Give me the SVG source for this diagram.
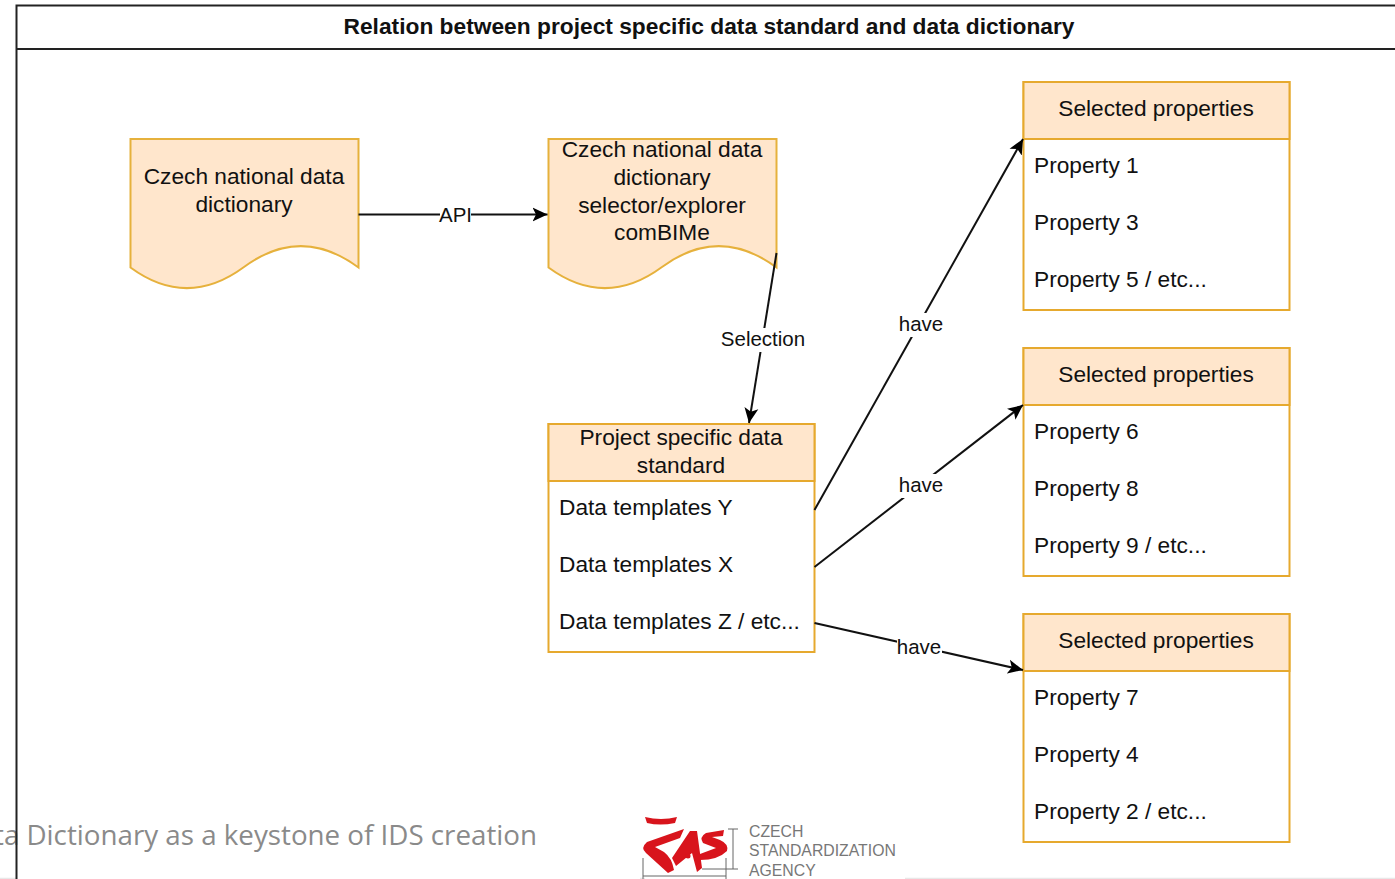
<svg xmlns="http://www.w3.org/2000/svg" width="1395" height="879" viewBox="0 0 1395 879">
<defs>
<marker id="arrow" markerUnits="userSpaceOnUse" markerWidth="16" markerHeight="16" refX="15" refY="8" orient="auto"><path d="M0,1 L15,8 L0,15 L3.500,8 Z" fill="#000"/></marker>
</defs>
<style>
text{font-family:"Liberation Sans",Arial,sans-serif;font-size:22.7px;fill:#111}
.c{text-anchor:middle}
.box{fill:#fff;stroke:#e6a92e;stroke-width:2}
.head{fill:#ffe6cc;stroke:#e6a92e;stroke-width:2}
.doc{fill:#ffe6cc;stroke:#e6b13c;stroke-width:2}
.edge{fill:none;stroke:#111;stroke-width:2;marker-end:url(#arrow)}
.lab{fill:#fff}
.small{font-size:20.5px}
.logo{font-size:15.8px;fill:#777}
.dim{fill:none;stroke:#666;stroke-width:1}
</style>
<rect width="1395" height="879" fill="#fff"/>
<g id="footer">
<text x="-6" y="845" style="font-family:'Open Sans',sans-serif;font-size:27px;fill:#8a8a8a" textLength="543" lengthAdjust="spacingAndGlyphs">ta Dictionary as a keystone of IDS creation</text>
<path d="M0,878.500 H16 M640,878.500 H645 M905,878.500 H1395" stroke="#e8e8e8" stroke-width="1.500" fill="none"/>
</g>
<g id="frame">
<path d="M1395,5.500 H16.500 V879" fill="none" stroke="#222" stroke-width="2"/>
<path d="M16.500,49 H1395" fill="none" stroke="#222" stroke-width="2"/>
<text x="709" y="34" class="c" style="font-weight:bold" textLength="731" lengthAdjust="spacingAndGlyphs">Relation between project specific data standard and data dictionary</text>
</g>
<g id="dict">
<path class="doc" d="M130.500,139 H358.500 V267.500 C320,239 282,239 244,267 C206,295 168,295 130.500,267.500 Z"/>
<text x="244" y="184" class="c">Czech national data</text>
<text x="244" y="212" class="c">dictionary</text>
</g>
<g id="selector">
<path class="doc" d="M548.500,139 H776.500 V267.500 C738,239 700,239 662,267 C624,295 586,295 548.500,267.500 Z"/>
<text x="662" y="157" class="c">Czech national data</text>
<text x="662" y="185" class="c">dictionary</text>
<text x="662" y="213" class="c">selector/explorer</text>
<text x="662" y="240" class="c">comBIMe</text>
</g>
<g id="standard">
<rect class="box" x="548.500" y="424" width="266" height="228"/>
<rect class="head" x="548.500" y="424" width="266" height="57"/>
<text x="681" y="445" class="c">Project specific data</text>
<text x="681" y="473" class="c">standard</text>
<text x="559" y="515">Data templates Y</text>
<text x="559" y="572">Data templates X</text>
<text x="559" y="629">Data templates Z / etc...</text>
</g>
<g id="props1">
<rect class="box" x="1023.500" y="82" width="266" height="228"/>
<rect class="head" x="1023.500" y="82" width="266" height="57"/>
<text x="1156" y="116" class="c">Selected properties</text>
<text x="1034" y="173">Property 1</text>
<text x="1034" y="230">Property 3</text>
<text x="1034" y="287">Property 5 / etc...</text>
</g>
<g id="props2">
<rect class="box" x="1023.500" y="348" width="266" height="228"/>
<rect class="head" x="1023.500" y="348" width="266" height="57"/>
<text x="1156" y="382" class="c">Selected properties</text>
<text x="1034" y="439">Property 6</text>
<text x="1034" y="496">Property 8</text>
<text x="1034" y="553">Property 9 / etc...</text>
</g>
<g id="props3">
<rect class="box" x="1023.500" y="614" width="266" height="228"/>
<rect class="head" x="1023.500" y="614" width="266" height="57"/>
<text x="1156" y="648" class="c">Selected properties</text>
<text x="1034" y="705">Property 7</text>
<text x="1034" y="762">Property 4</text>
<text x="1034" y="819">Property 2 / etc...</text>
</g>
<g id="connectors">
<path class="edge" d="M358.500,214.500 H547.500"/>
<path class="edge" d="M776.500,253 L749,423"/>
<path class="edge" d="M814.500,510 L1023,139"/>
<path class="edge" d="M814.500,567 L1023,405"/>
<path class="edge" d="M814.500,623 L1023,670"/>
<rect class="lab" x="440" y="206" width="31" height="18"/>
<text x="455.500" y="222" class="c small">API</text>
<rect class="lab" x="719" y="328" width="88" height="24"/>
<text x="763" y="346" class="c small">Selection</text>
<rect class="lab" x="896" y="313" width="50" height="24"/>
<text x="921" y="331" class="c small">have</text>
<rect class="lab" x="896" y="474" width="50" height="24"/>
<text x="921" y="492" class="c small">have</text>
<rect class="lab" x="897" y="639" width="45" height="19"/>
<text x="919" y="654" class="c small">have</text>
</g>
<g id="logo">
<path d="M645,817 Q661,821 677,817 L675,823 Q660,826 647,823 Z" fill="#d8141c"/>
<path d="M684,829 L647,842 Q640,848 646,853 L668,873 L674,870 Q672,858 664,852 L655,847 L680,838 Z" fill="#d8141c"/>
<path d="M690,831 L697,831 L702,868 L697,872 L692,853 L676,866 L672,858 Z" fill="#d8141c"/>
<path d="M724,830 L706,833 Q699,837 703,843 L716,848 L700,854 L700,860 Q718,860 727,851 Q729,844 720,840 L712,837 L723,836 Z" fill="#d8141c"/>
<circle cx="688" cy="856" r="2.500" fill="#d8141c"/>
<path class="dim" d="M643,858 V879 M726,858 V879 M643,876 H726 M702,869 H738 M728,829 H738 M733,829 V869"/>
<text x="749" y="837" class="logo">CZECH</text>
<text x="749" y="856" class="logo">STANDARDIZATION</text>
<text x="749" y="876" class="logo">AGENCY</text>
</g>
</svg>
